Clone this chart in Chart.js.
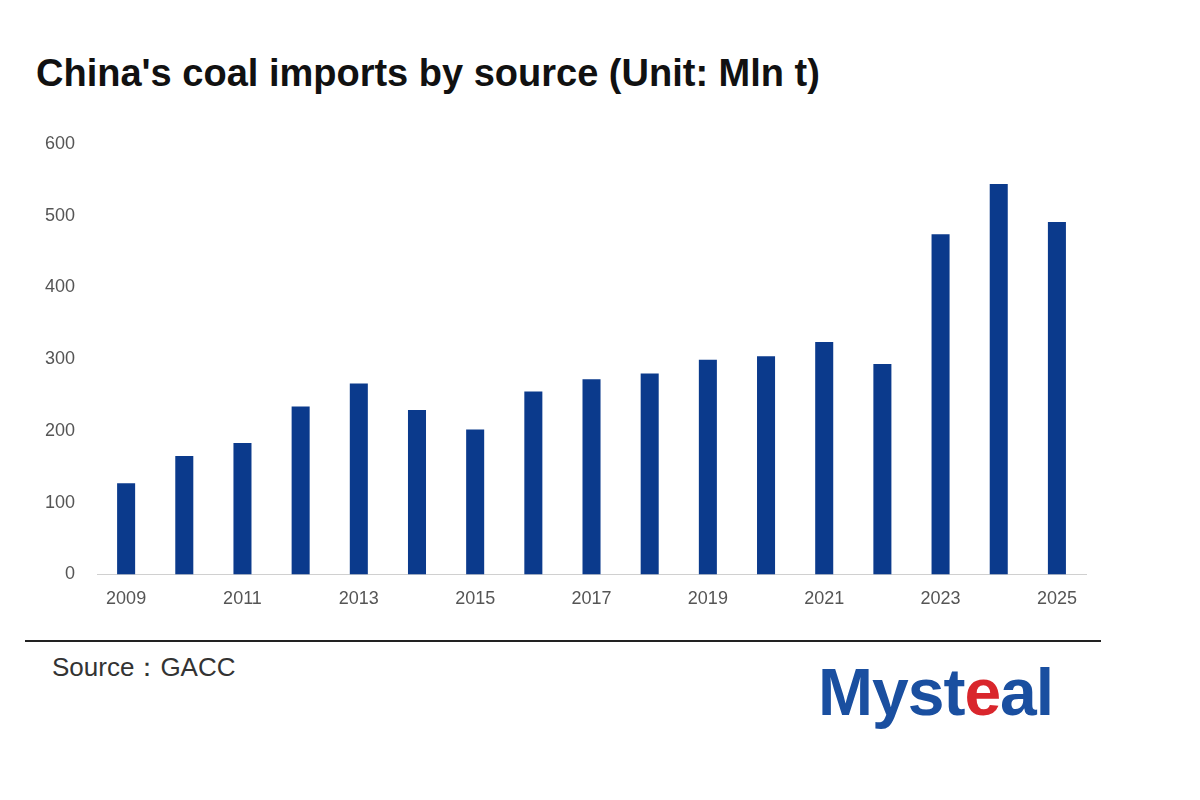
<!DOCTYPE html>
<html>
<head>
<meta charset="utf-8">
<script src="https://cdn.jsdelivr.net/npm/chart.js@4"></script>
<style>
  body { margin: 0; width: 1200px; height: 800px; background: #fff; font-family: "Liberation Sans", Arial, sans-serif; position: relative; overflow: hidden; }
  #title { position: absolute; left: 36px; top: 52px; font-size: 38px; font-weight: bold; color: #111; }
  #wrap { position: absolute; left: 23px; top: 111px; width: 1077px; height: 513px; }
  #rule { position: absolute; left: 25px; top: 640px; width: 1076px; height: 2px; background: #222; }
  #source { position: absolute; left: 52px; top: 650px; font-size: 26px; color: #333; }
  #logo { position: absolute; left: 818px; top: 654px; font-size: 66px; font-weight: bold; color: #1a4fa0; letter-spacing: -1px; }
  #logo span { color: #d9262c; }
</style>
</head>
<body>
<div id="title">China's coal imports by source (Unit: Mln t)</div>
<div id="wrap"><canvas id="chart"></canvas></div>
<div id="rule"></div>
<div id="source">Source：GACC</div>
<div id="logo">Myst<span>e</span>al</div>
<script>
// Annual coal imports, million tonnes
const years = ['2009','2010','2011','2012','2013','2014','2015','2016','2017','2018','2019','2020','2021','2022','2023','2024','2025'];
const imports = [127, 165, 183, 234, 266, 229, 202, 255, 272, 280, 299, 304, 324, 293, 474, 544, 491];
const yTicks = [0, 100, 200, 300, 400, 500, 600];

const ctx = document.getElementById('chart').getContext('2d');
new Chart(ctx, {
    type: 'bar',
    data: {
        labels: years,
        datasets: [{
            data: imports,
            backgroundColor: '#0b3a8c',
            barPercentage: 0.31,
            categoryPercentage: 1.0
        }]
    },
    options: {
        responsive: true,
        maintainAspectRatio: false,
        animation: false,
        layout: { padding: { right: 14 } },
        plugins: { legend: { display: false }, tooltip: { enabled: false } },
        scales: {
            x: {
                grid: { display: false, drawTicks: false },
                border: { color: '#d0d0d0' },
                ticks: {
                    autoSkip: false,
                    maxRotation: 0,
                    padding: 14,
                    color: '#555',
                    font: { size: 18 },
                    callback: (v, i) => i % 2 === 0 ? years[i] : ''
                }
            },
            y: {
                min: 0,
                max: 600,
                afterBuildTicks: axis => { axis.ticks = yTicks.map(v => ({ value: v })); },
                grid: { display: false, drawTicks: false },
                border: { display: false },
                ticks: { color: '#555', font: { size: 18 }, padding: 22 }
            }
        }
    }
});
</script>
</body>
</html>
